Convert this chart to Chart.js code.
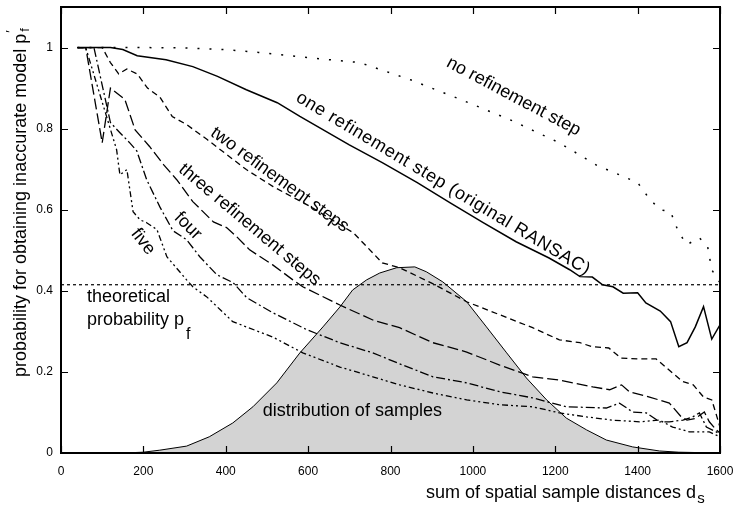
<!DOCTYPE html>
<html>
<head>
<meta charset="utf-8">
<script src="https://cdn.jsdelivr.net/npm/chart.js@4/dist/chart.umd.min.js"></script>
<style>
html,body{margin:0;padding:0;background:#fff;}
#wrap{width:738px;height:506px;position:relative;}
</style>
</head>
<body>
<div id="wrap"><canvas id="c" width="738" height="506"></canvas></div>
<script>
// ---------- data ----------
const xTicks = [0, 200, 400, 600, 800, 1000, 1200, 1400, 1600];
const yTicks = [0, 0.2, 0.4, 0.6, 0.8, 1];

const noRefX = [40, 100, 200, 300, 400, 480, 600, 725, 850, 970, 1090, 1210, 1300, 1400, 1430, 1455, 1480, 1500, 1520, 1550, 1570, 1580, 1600];
const noRefY = [1, 1, 1, 0.999, 0.995, 0.988, 0.975, 0.963, 0.92, 0.872, 0.822, 0.765, 0.71, 0.667, 0.625, 0.6, 0.595, 0.543, 0.514, 0.531, 0.509, 0.452, 0.42];

const oneX = [40, 120, 150, 185, 255, 320, 380, 450, 525, 580, 700, 780, 865, 945, 1025, 1105, 1185, 1235, 1260, 1290, 1315, 1340, 1365, 1400, 1420, 1455, 1480, 1500, 1520, 1540, 1560, 1580, 1600];
const oneY = [1, 1, 0.995, 0.98, 0.97, 0.953, 0.929, 0.896, 0.864, 0.83, 0.76, 0.716, 0.667, 0.617, 0.568, 0.521, 0.481, 0.452, 0.435, 0.434, 0.415, 0.41, 0.394, 0.395, 0.37, 0.35, 0.324, 0.262, 0.272, 0.311, 0.361, 0.281, 0.316];

const twoX = [40, 100, 120, 140, 160, 185, 210, 240, 270, 305, 355, 450, 515, 605, 710, 780, 822, 900, 985, 1065, 1145, 1210, 1260, 1290, 1330, 1360, 1405, 1445, 1485, 1510, 1535, 1560, 1580, 1590, 1600];
const twoY = [1, 1, 0.963, 0.935, 0.947, 0.935, 0.9, 0.878, 0.83, 0.81, 0.773, 0.699, 0.657, 0.608, 0.543, 0.469, 0.457, 0.419, 0.373, 0.341, 0.309, 0.279, 0.272, 0.262, 0.259, 0.234, 0.232, 0.232, 0.197, 0.176, 0.168, 0.138, 0.131, 0.098, 0.064];

const threeX = [40, 60, 100, 120, 155, 180, 215, 250, 281, 320, 370, 402, 427, 458, 514, 563, 587, 677, 757, 822, 903, 985, 1065, 1145, 1210, 1291, 1332, 1361, 1380, 1429, 1477, 1506, 1520, 1540, 1562, 1574, 1591, 1600];
const threeY = [1, 1, 0.765, 0.9, 0.872, 0.797, 0.756, 0.71, 0.674, 0.62, 0.57, 0.556, 0.533, 0.501, 0.464, 0.427, 0.41, 0.365, 0.328, 0.309, 0.272, 0.249, 0.217, 0.188, 0.18, 0.163, 0.156, 0.168, 0.151, 0.138, 0.123, 0.089, 0.081, 0.085, 0.101, 0.077, 0.057, 0.049];

const fourX = [40, 80, 120, 143, 167, 184, 208, 240, 272, 305, 337, 378, 418, 451, 514, 597, 677, 757, 822, 903, 985, 1065, 1145, 1227, 1324, 1356, 1388, 1421, 1453, 1477, 1510, 1534, 1550, 1567, 1591, 1600];
const fourY = [1, 1, 0.815, 0.79, 0.765, 0.745, 0.674, 0.607, 0.548, 0.526, 0.484, 0.44, 0.42, 0.383, 0.346, 0.304, 0.272, 0.247, 0.22, 0.188, 0.173, 0.151, 0.136, 0.114, 0.111, 0.123, 0.101, 0.099, 0.077, 0.077, 0.081, 0.089, 0.099, 0.064, 0.052, 0.045];

const fiveX = [40, 60, 135, 143, 160, 175, 192, 208, 233, 257, 305, 320, 354, 417, 514, 587, 677, 757, 822, 903, 985, 1065, 1145, 1210, 1276, 1339, 1405, 1453, 1485, 1526, 1574, 1600];
const fiveY = [1, 1, 0.748, 0.686, 0.699, 0.595, 0.575, 0.568, 0.551, 0.484, 0.427, 0.41, 0.385, 0.324, 0.286, 0.247, 0.212, 0.188, 0.168, 0.148, 0.131, 0.119, 0.114, 0.099, 0.089, 0.081, 0.077, 0.081, 0.064, 0.052, 0.052, 0.04];

const distX = [150, 200, 240, 305, 360, 417, 466, 524, 580, 636, 677, 708, 742, 774, 815, 859, 887, 927, 985, 1033, 1082, 1130, 1179, 1227, 1276, 1324, 1388, 1453, 1500, 1600];
const distY = [0, 0.002, 0.007, 0.017, 0.04, 0.074, 0.114, 0.173, 0.247, 0.311, 0.36, 0.402, 0.427, 0.444, 0.457, 0.459, 0.447, 0.422, 0.373, 0.311, 0.247, 0.185, 0.131, 0.086, 0.057, 0.032, 0.015, 0.005, 0.002, 0];

const theoreticalPf = 0.415;

// ---------- helpers ----------
const pts = (xs, ys) => xs.map((x, i) => ({x: x, y: ys[i]}));
const FONT = "'Liberation Sans', Arial, Helvetica, sans-serif";

const curveLabels = [
  {text: 'no refinement step', x: 1099, y: 0.879, angle: 28, spacing: 0},
  {text: 'one refinement step (original RANSAC)', x: 928, y: 0.664, angle: 31, spacing: 0.7},
  {text: 'two refinement steps', x: 531, y: 0.674, angle: 36, spacing: 0},
  {text: 'three refinement steps', x: 458, y: 0.563, angle: 40, spacing: 0},
  {text: 'four', x: 308, y: 0.56, angle: 45, spacing: 0},
  {text: 'five', x: 199, y: 0.521, angle: 52, spacing: 0}
];

const decor = {
  id: 'decor',
  afterDatasetsDraw(chart) {
    const ctx = chart.ctx, a = chart.chartArea;
    const xs = chart.scales.x, ys = chart.scales.y;
    ctx.save();
    // frame
    ctx.strokeStyle = '#000';
    ctx.lineWidth = 2;
    ctx.strokeRect(a.left, a.top, a.right - a.left, a.bottom - a.top);
    // inward ticks
    ctx.lineWidth = 1.2;
    const tl = 7;
    ctx.beginPath();
    xTicks.forEach(v => {
      const px = Math.round(xs.getPixelForValue(v)) + 0.5;
      ctx.moveTo(px, a.bottom); ctx.lineTo(px, a.bottom - tl);
      ctx.moveTo(px, a.top); ctx.lineTo(px, a.top + tl);
    });
    yTicks.forEach(v => {
      const py = Math.round(ys.getPixelForValue(v)) + 0.5;
      ctx.moveTo(a.left, py); ctx.lineTo(a.left + tl, py);
      ctx.moveTo(a.right, py); ctx.lineTo(a.right - tl, py);
    });
    ctx.stroke();

    ctx.fillStyle = '#000';
    ctx.font = '18px ' + FONT;
    // curve labels
    curveLabels.forEach(l => {
      ctx.save();
      ctx.translate(xs.getPixelForValue(l.x), ys.getPixelForValue(l.y));
      ctx.rotate(l.angle * Math.PI / 180);
      ctx.letterSpacing = l.spacing + 'px';
      ctx.textAlign = 'center';
      ctx.textBaseline = 'middle';
      ctx.fillText(l.text, 0, 0);
      ctx.restore();
    });
    // theoretical probability
    ctx.textAlign = 'left';
    ctx.textBaseline = 'alphabetic';
    const tx = xs.getPixelForValue(63);
    ctx.fillText('theoretical', tx, ys.getPixelForValue(0.373));
    const by = ys.getPixelForValue(0.315);
    ctx.fillText('probability p', tx, by);
    let w = ctx.measureText('probability p').width;
    ctx.font = '16px ' + FONT;
    ctx.fillText('f', tx + w + 2, by + 14);
    // distribution of samples
    ctx.font = '18px ' + FONT;
    ctx.fillText('distribution of samples', xs.getPixelForValue(490), ys.getPixelForValue(0.091));

    // x-axis title
    ctx.fillText('sum of spatial sample distances d', 426, 498);
    w = ctx.measureText('sum of spatial sample distances d').width;
    ctx.font = '15px ' + FONT;
    ctx.fillText('s', 426 + w + 1, 503);

    // y-axis title
    ctx.save();
    ctx.translate(26, 377);
    ctx.rotate(-Math.PI / 2);
    ctx.font = '18px ' + FONT;
    ctx.fillText('probability for obtaining inaccurate model p', 0, 0);
    w = ctx.measureText('probability for obtaining inaccurate model p').width;
    ctx.font = '13px ' + FONT;
    ctx.fillText('\u2032', w + 1, -11);
    ctx.fillText('f', w + 2, 3);
    ctx.restore();

    ctx.restore();
  }
};

const dash = (data, d, lw) => ({
  data: data, borderColor: '#000', borderWidth: lw || 1.3, borderDash: d,
  pointRadius: 0, fill: false, tension: 0, order: 1
});

const zeroPad = s => { s.paddingTop = 0; s.paddingBottom = 0; s.paddingLeft = 0; s.paddingRight = 0; };

new Chart(document.getElementById('c'), {
  type: 'line',
  data: {
    datasets: [
      dash(pts(noRefX, noRefY), [2, 10], 1.5),
      dash(pts(oneX, oneY), [], 1.5),
      dash(pts(twoX, twoY), [6, 4]),
      dash(pts(threeX, threeY), [11, 4]),
      dash(pts(fourX, fourY), [9, 3, 2, 3]),
      dash(pts(fiveX, fiveY), [6, 3, 2, 3, 2, 3]),
      dash(pts([0, 1600], [theoreticalPf, theoreticalPf]), [3, 3], 1.2),
      {
        data: pts(distX, distY), borderColor: '#000', borderWidth: 1,
        backgroundColor: '#d3d3d3', fill: 'origin', pointRadius: 0, tension: 0, order: 5
      }
    ]
  },
  options: {
    responsive: false,
    devicePixelRatio: 1,
    animation: false,
    layout: {padding: {left: 0, right: 18, top: 7, bottom: 0}},
    plugins: {legend: {display: false}, tooltip: {enabled: false}, title: {display: false}},
    scales: {
      x: {
        type: 'linear', min: 0, max: 1600,
        afterBuildTicks: s => { s.ticks = xTicks.map(v => ({value: v})); },
        afterFit: s => { s.height = 53; zeroPad(s); },
        grid: {display: false, drawTicks: false},
        border: {display: false},
        ticks: {color: '#000', font: {family: FONT, size: 12}, padding: 11, maxRotation: 0, autoSkip: false,
                callback: v => String(v)}
      },
      y: {
        type: 'linear', min: 0, max: 1.1,
        afterBuildTicks: s => { s.ticks = yTicks.map(v => ({value: v})); },
        afterFit: s => { s.width = 61; zeroPad(s); },
        grid: {display: false, drawTicks: false},
        border: {display: false},
        ticks: {color: '#000', font: {family: FONT, size: 12}, padding: 8, autoSkip: false,
                callback: v => String(+v.toFixed(1))}
      }
    }
  },
  plugins: [decor]
});
</script>
</body>
</html>
